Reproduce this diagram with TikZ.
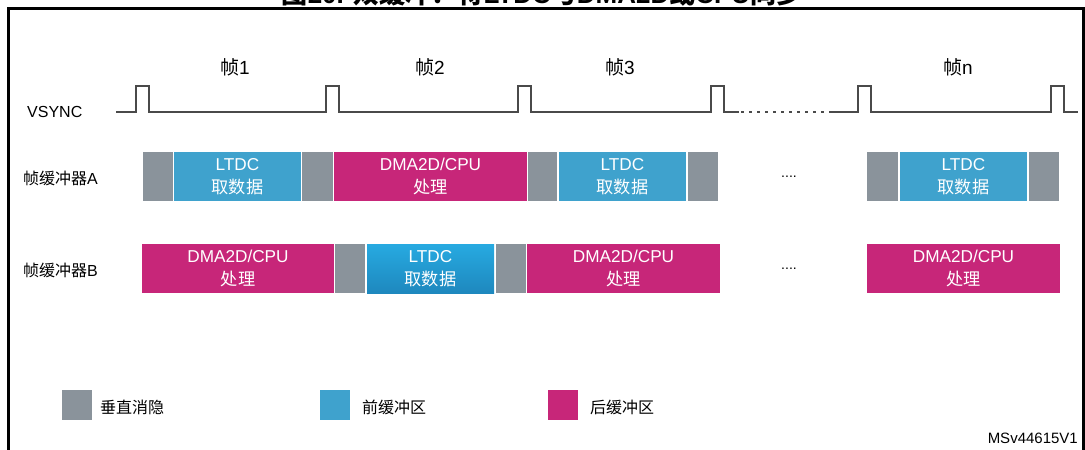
\documentclass[tikz,border=0pt]{standalone}
\usepackage{fontspec}
\setmainfont{Liberation Sans}
\newfontfamily\cjk{Noto Sans CJK SC}
\definecolor{vgray}{HTML}{8A939B}
\definecolor{fblue}{HTML}{3FA2CD}
\definecolor{bmag}{HTML}{C72679}
\definecolor{wave}{HTML}{4A4A4A}
\definecolor{gtop}{HTML}{27AAE1}
\definecolor{gbot}{HTML}{1E88BE}
\begin{document}
\begin{tikzpicture}[x=1pt,y=-1pt,
  blk/.style={inner sep=0pt, minimum height=49pt, text=white, align=center,
    font=\fontsize{17.2}{22.5}\selectfont},
  gbox/.style={blk, fill=vgray},
  fbox/.style={blk, fill=fblue},
  mbox/.style={blk, fill=bmag},
  lbl/.style={anchor=west, inner sep=0pt, font=\fontsize{16}{18}\selectfont},
  frm/.style={inner sep=0pt, font=\fontsize{19}{22}\selectfont},
  leg/.style={minimum width=30pt, minimum height=30pt, inner sep=0pt},
  legt/.style={anchor=west, inner sep=0pt, font=\fontsize{16}{18}\selectfont},
  wv/.style={draw=wave, line width=2.2pt},
]
\useasboundingbox (0,0) rectangle (1085,450);
% frame
\draw[line width=3pt] (8,460) -- (8,8) -- (1083,8) -- (1083,460);
% title (cut off at top, as in the reference)
\node[anchor=base, inner sep=0pt, font=\fontsize{26}{30}\selectfont\bfseries] (title) at (542,3.5)
  {{\cjk 图}20. {\cjk 双缓冲：将}LTDC{\cjk 与}DMA2D{\cjk 或}CPU{\cjk 同步}};
% frame labels
\node[frm] (f1) at (235,67) {{\cjk 帧}1};
\node[frm] (f2) at (430,67) {{\cjk 帧}2};
\node[frm] (f3) at (620,67) {{\cjk 帧}3};
\node[frm] (fn) at (958,67) {{\cjk 帧}n};
% row labels
\node[lbl] (vs) at (27,112) {VSYNC};
\node[lbl] (la) at (23,178) {{\cjk 帧缓冲器}A};
\node[lbl] (lb) at (23,270) {{\cjk 帧缓冲器}B};
% VSYNC waveform
\draw[wv, line join=miter] (116,112) -- (136,112) -- (136,86) -- (149,86) -- (149,112)
  -- (326,112) -- (326,86) -- (339,86) -- (339,112)
  -- (518,112) -- (518,86) -- (531,86) -- (531,112)
  -- (711,112) -- (711,86) -- (724,86) -- (724,112) -- (739,112);
\draw[wv, dash pattern=on 3pt off 5pt] (741,112) -- (832,112);
\draw[wv, line join=miter] (832,112) -- (858,112) -- (858,86) -- (871,86) -- (871,112)
  -- (1051,112) -- (1051,86) -- (1064,86) -- (1064,112) -- (1078,112);
% row A
\node[gbox, minimum width=30pt] (a1) at (158,176.5) {};
\node[fbox, minimum width=127pt] (a2) at (237.5,176.5) {LTDC\\{\cjk 取数据}};
\node[gbox, minimum width=31pt] (a3) at (317.5,176.5) {};
\node[mbox, minimum width=193pt] (a4) at (430.5,176.5) {DMA2D/CPU\\{\cjk 处理}};
\node[gbox, minimum width=29pt] (a5) at (542.5,176.5) {};
\node[fbox, minimum width=127pt] (a6) at (622.5,176.5) {LTDC\\{\cjk 取数据}};
\node[gbox, minimum width=30pt] (a7) at (703,176.5) {};
\node[inner sep=0pt, font=\fontsize{14}{16}\selectfont] (da) at (789,177) {....};
\node[gbox, minimum width=31pt] (a8) at (882.5,176.5) {};
\node[fbox, minimum width=127pt] (a9) at (963.5,176.5) {LTDC\\{\cjk 取数据}};
\node[gbox, minimum width=30pt] (a10) at (1044,176.5) {};
% row B
\node[mbox, minimum width=192pt] (b1) at (238,268.5) {DMA2D/CPU\\{\cjk 处理}};
\node[gbox, minimum width=30pt] (b2) at (350,268.5) {};
\node[blk, minimum width=127pt, top color=gtop, bottom color=gbot] (b3) at (430.5,268.5) {LTDC\\{\cjk 取数据}};
\node[gbox, minimum width=30pt] (b4) at (511,268.5) {};
\node[mbox, minimum width=193pt] (b5) at (623.5,268.5) {DMA2D/CPU\\{\cjk 处理}};
\node[inner sep=0pt, font=\fontsize{14}{16}\selectfont] (db) at (789,269) {....};
\node[mbox, minimum width=193pt] (b6) at (963.5,268.5) {DMA2D/CPU\\{\cjk 处理}};
% legend
\node[leg, fill=vgray] (lg1) at (77,405) {};
\node[legt] (lt1) at (100,407) {\cjk 垂直消隐};
\node[leg, fill=fblue] (lg2) at (335,405) {};
\node[legt] (lt2) at (362,407) {\cjk 前缓冲区};
\node[leg, fill=bmag] (lg3) at (563,405) {};
\node[legt] (lt3) at (590,407) {\cjk 后缓冲区};
\node[anchor=east, inner sep=0pt, font=\fontsize{15}{18}\selectfont] (ms) at (1078,438) {MSv44615V1};
\end{tikzpicture}
\end{document}
